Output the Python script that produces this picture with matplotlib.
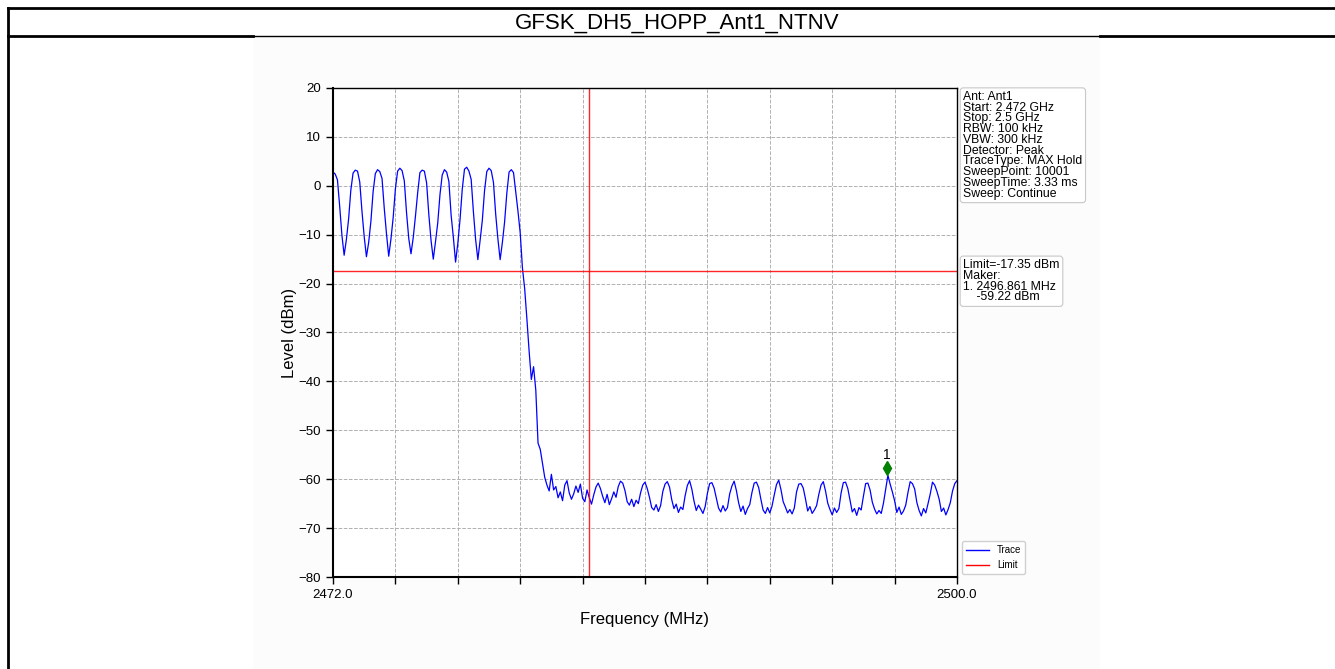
import numpy as np
import matplotlib
matplotlib.use('Agg')
import matplotlib.pyplot as plt
from matplotlib.lines import Line2D
from matplotlib.patches import Rectangle

plt.rcParams['font.family'] = ['Liberation Sans', 'DejaVu Sans']

title = 'GFSK_DH5_HOPP_Ant1_NTNV'
start_mhz = 2472.0
stop_mhz = 2500.0
limit_dbm = -17.35
edge_mhz = 2483.5
marker_mhz = 2496.861
marker_dbm = -59.22

# trace levels, one row per MHz (x.0 .. x.9), last point at 2500.0
level = [
    2.8, 2.4, 1.2, -4.2, -10.1, -14.2, -11.0, -6.8, -0.9, 2.6,
    3.2, 3.0, 0.8, -5.2, -10.4, -14.5, -11.6, -7.3, -1.2, 2.5,
    3.3, 2.9, 1.5, -4.6, -9.8, -14.4, -10.9, -6.5, -0.6, 3.0,
    3.6, 3.1, 1.0, -5.5, -10.8, -13.9, -10.6, -6.2, -1.4, 2.7,
    3.2, 3.0, 0.6, -5.9, -11.2, -15.0, -11.4, -7.6, -1.8, 2.2,
    3.3, 2.8, 0.9, -6.0, -10.5, -15.6, -11.8, -6.9, -0.7, 3.4,
    3.8, 3.0, 1.3, -5.3, -11.0, -15.1, -11.2, -7.1, -1.0, 2.9,
    3.6, 3.1, 0.7, -5.8, -10.9, -15.1, -11.6, -7.4, -1.5, 2.8,
    3.3, 2.7, -1.2, -5.2, -9.6, -16.8, -21.0, -27.2, -33.8, -39.6,
    -37.0, -41.8, -52.6, -53.9, -56.8, -59.6, -61.2, -62.4, -59.0, -62.2,
    -61.5, -63.8, -62.6, -64.4, -61.2, -60.3, -62.8, -64.1, -63.0, -61.4,
    -62.7, -61.0, -63.9, -64.6, -62.2, -63.8, -65.1, -63.2, -61.6, -60.8,
    -61.9, -63.5, -64.8, -63.1, -65.2, -64.0, -62.6, -63.7, -61.5, -60.4,
    -60.8, -62.3, -64.6, -65.3, -64.1, -65.6, -64.3, -65.0, -62.8, -61.2,
    -60.6, -61.9, -63.7, -65.8, -66.3, -65.2, -66.6, -65.4, -62.5, -61.0,
    -60.5, -61.6, -64.2, -66.0, -65.1, -66.8, -65.7, -66.2, -63.4, -61.3,
    -60.3, -62.0, -64.5, -66.4, -65.3, -66.1, -67.0, -65.6, -62.9, -60.9,
    -60.7, -61.8, -63.9, -65.9, -66.7, -65.4, -66.5, -65.8, -63.0, -61.4,
    -60.4, -62.3, -64.8, -66.6, -65.5, -67.2, -66.0, -65.2, -62.7, -60.8,
    -60.6, -61.7, -64.1, -66.3, -67.0, -65.8, -66.9, -65.5, -63.2, -61.1,
    -60.2, -62.1, -64.6, -65.7, -66.9, -66.2, -67.1, -65.9, -62.6, -61.0,
    -60.9, -61.8, -64.0, -66.5, -65.6, -67.0, -66.3, -65.4, -63.1, -61.2,
    -60.5, -62.4, -64.9, -66.2, -67.3, -65.9, -66.8, -66.0, -62.8, -60.7,
    -60.6, -61.9, -64.3, -66.7, -66.0, -67.4, -65.8, -66.3, -63.5, -60.9,
    -60.8, -62.2, -64.7, -66.1, -67.1, -66.4, -67.0, -64.9, -62.0, -59.2,
    -61.0, -62.6, -64.4, -66.8, -65.7, -67.2, -66.5, -65.3, -62.7, -60.5,
    -60.9, -62.0, -64.8, -66.4, -67.5, -66.0, -66.9, -65.0, -63.0, -60.6,
    -61.2, -62.5, -64.1, -66.6, -65.9, -67.3, -66.2, -64.8, -62.4, -60.9,
    -60.3,
]
freq = np.linspace(start_mhz, stop_mhz, len(level))

info_lines = ['Ant: Ant1', 'Start: 2.472 GHz', 'Stop: 2.5 GHz', 'RBW: 100 kHz',
              'VBW: 300 kHz', 'Detector: Peak', 'TraceType: MAX Hold',
              'SweepPoint: 10001', 'SweepTime: 3.33 ms', 'Sweep: Continue']
limit_lines = ['Limit=-17.35 dBm', 'Maker:', '1. 2496.861 MHz', '    -59.22 dBm']

W, H = 1335, 669
fig = plt.figure(figsize=(W / 100, H / 100), dpi=100)
fig.patch.set_facecolor('white')

# report table frame and the pasted chart area
fig.add_artist(Rectangle((253 / W, 0), 847 / W, 1 - 37 / H, transform=fig.transFigure,
                         facecolor='#fcfcfc', edgecolor='none', zorder=0))
for xs, ys, lw in [([8, W], [8, 8], 2), ([8, 253], [36, 36], 2), ([1100, W], [36, 36], 2),
                   ([253, 1100], [36, 36], 1), ([8, 8], [8, H], 2)]:
    fig.add_artist(Line2D([x / W for x in xs], [1 - y / H for y in ys],
                          transform=fig.transFigure, color='black', lw=lw))
fig.text(677 / W, 1 - 23 / H, title, ha='center', va='center', fontsize=16)

ax = fig.add_axes([333 / W, 1 - 577 / H, 624 / W, 489 / H])
ax.set_facecolor('white')
ax.plot(freq, level, color='blue', lw=0.9)
ax.axhline(limit_dbm, color='red', lw=1.0, alpha=0.85)
ax.axvline(edge_mhz, color='red', lw=1.0, alpha=0.85)
ax.plot(marker_mhz, marker_dbm + 1.5, marker='d', color='green', ms=7, ls='none')
ax.text(marker_mhz, marker_dbm + 2.8, '1', ha='center', va='bottom', fontsize=10)

ax.set_xlim(start_mhz, stop_mhz)
ax.set_ylim(-80, 20)
xt = np.linspace(start_mhz, stop_mhz, 11)
ax.set_xticks(xt)
ax.set_xticklabels(['2472.0'] + [''] * 9 + ['2500.0'])
ax.set_yticks(np.arange(-80, 21, 10))
ax.tick_params(labelsize=9.5, direction='out', length=5, width=1)
ax.grid(True, ls='--', color='#b0b0b0', lw=0.7)
for s in ax.spines.values():
    s.set_linewidth(1)
ax.spines['bottom'].set_linewidth(1.5)
ax.spines['left'].set_linewidth(1.5)
ax.set_xlabel('Frequency (MHz)', fontsize=12, labelpad=8)
ax.set_ylabel('Level (dBm)', fontsize=12, labelpad=1)

box = dict(boxstyle='round,pad=0.25', facecolor='white', edgecolor='#c8c8c8', lw=0.8)
ax.text(1.01, 0.994, '\n'.join(info_lines), transform=ax.transAxes, ha='left', va='top',
        fontsize=8.8, linespacing=0.86, bbox=box)
ax.text(1.01, 0.650, '\n'.join(limit_lines), transform=ax.transAxes, ha='left', va='top',
        fontsize=8.8, linespacing=0.86, bbox=box)

handles = [Line2D([], [], color='blue', lw=1), Line2D([], [], color='red', lw=1)]
ax.legend(handles, ['Trace', 'Limit'], loc='lower left', bbox_to_anchor=(1.003, 0.0),
          fontsize=7, borderaxespad=0.3, handlelength=2.4, framealpha=1, edgecolor='#d0d0d0')

fig.savefig('out.png', dpi=100)
